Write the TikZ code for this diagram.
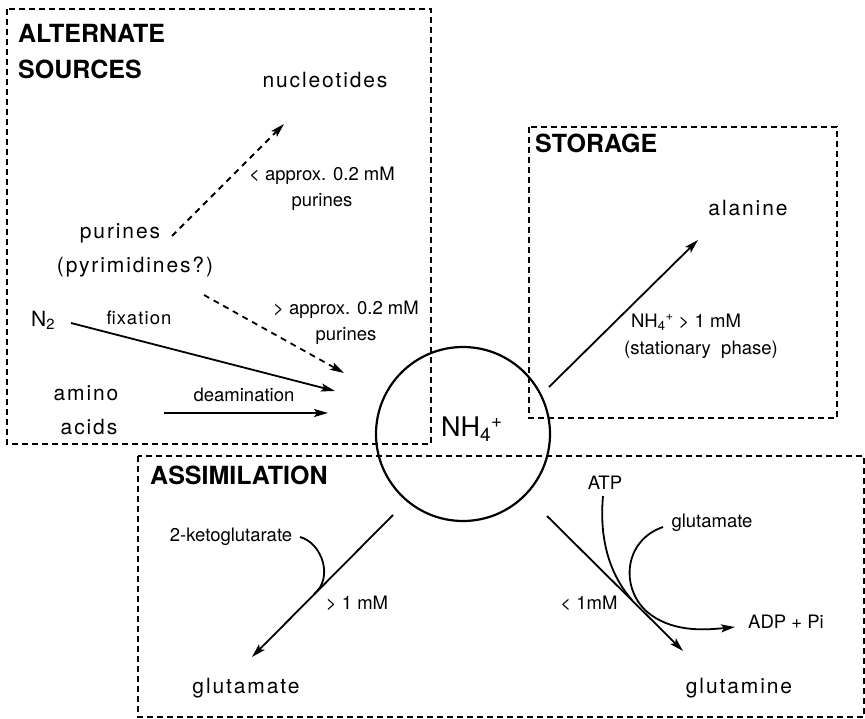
\documentclass[tikz,border=0pt]{standalone}
\usepackage{fontspec}
\setmainfont{TeX Gyre Heros}
\usetikzlibrary{arrows.meta}

\tikzset{
  zone/.style={draw, line width=1.6pt, dash pattern=on 6pt off 4pt},
  head/.style={font=\fontsize{25}{28}\selectfont\bfseries, anchor=west, inner sep=0pt},
  big/.style={font=\fontsize{21}{26}\selectfont\addfontfeature{LetterSpace=9}, inner sep=0pt, align=center},
  small/.style={font=\fontsize{18.5}{26}\selectfont, inner sep=0pt, align=center},
  flow/.style={line width=1.8pt, -{Stealth[length=14pt,width=8pt,inset=3pt]}},
  dflow/.style={flow, dash pattern=on 6pt off 5pt},
  link/.style={line width=1.8pt},
}

\begin{document}
\begin{tikzpicture}[x=1pt,y=-1pt]
\useasboundingbox (0,0) rectangle (865,719);

% dashed compartments
\draw[zone] (7,9) rectangle (431,444);
\draw[zone] (529,127) rectangle (837,418);
\draw[zone] (138,456) rectangle (864,717);

% central ammonium pool
\node[circle, draw, line width=2.2pt, minimum size=174pt, inner sep=0pt] (pool) at (463,434) {};
\node[font=\fontsize{27}{30}\selectfont, inner sep=0pt] (nh) at (472,429) {NH\textsubscript{4}\textsuperscript{+}};

% alternate sources
\node[head] (alt1) at (18,33) {ALTERNATE};
\node[head] (alt2) at (18,69) {SOURCES};
\node[big] (nuc) at (325,80) {nucleotides};
\node[big] (pur) at (120,233) {purines};
\node[big] (pyr) at (135,267) {(pyrimidines?)};
\node[big, anchor=west] (n2) at (31,320) {N\textsubscript{2}};
\node[small, font=\fontsize{18.5}{26}\selectfont\addfontfeature{LetterSpace=6}] (fix) at (139,318) {fixation};
\node[big] (amino) at (86,393) {amino};
\node[big] (acids) at (89,427) {acids};
\node[small] (deam) at (244,395) {deamination};
\node[small] (lo) at (322,189) {< approx. 0.2 mM\\purines};
\node[small] (hi) at (346,323) {> approx. 0.2 mM\\purines};

\coordinate (pA) at (172,236);  \coordinate (pB) at (284,124);
\coordinate (qA) at (204,295);  \coordinate (qB) at (344,373);
\coordinate (fA) at (71,323);   \coordinate (fB) at (335,391);
\coordinate (dA) at (164,413);  \coordinate (dB) at (328,413);
\draw[dflow] (pA) -- (pB);
\draw[dflow] (qA) -- (qB);
\draw[flow] (fA) -- (fB);
\draw[flow] (dA) -- (dB);

% storage
\node[head] (sto) at (535,143) {STORAGE};
\node[big] (ala) at (748,208) {alanine};
\node[small] (cond) at (686,322) {NH\textsubscript{4}\textsuperscript{+} > 1 mM};
\node[small] (phase) at (701,350) {(stationary~~phase)};
\coordinate (aA) at (549,387);  \coordinate (aB) at (698,240);
\draw[flow] (aA) -- (aB);

% assimilation
\node[head] (asm) at (150,475) {ASSIMILATION};
\node[small] (keto) at (231,537) {2-ketoglutarate};
\node[small] (gt1) at (357,603) {> 1 mM};
\node[big] (glu) at (246,688) {glutamate};
\node[small] (atp) at (605,483) {ATP};
\node[small] (glu2) at (712,523) {glutamate};
\node[small] (lt1) at (589,603) {< 1mM};
\node[small] (adp) at (786,622) {ADP + Pi};
\node[big] (gln) at (739,688) {glutamine};

\coordinate (gA) at (393,515);  \coordinate (gB) at (252,657);
\coordinate (nA) at (547,516);  \coordinate (nB) at (683,651);
\draw[flow] (gA) -- (gB);
\draw[flow] (nA) -- (nB);

% co-substrates joining the reactions
\coordinate (kS) at (300,537);  \coordinate (kE) at (314,594);
\draw[link] (kS) .. controls (322,543) and (334,578) .. (kE);
\coordinate (tS) at (603,496);  \coordinate (tE) at (632,600);
\draw[link] (tS) .. controls (599,540) and (610,575) .. (tE);
\coordinate (uS) at (663,527);  \coordinate (uM) at (645,610);  \coordinate (uE) at (735,627);
\draw[flow] (uS) .. controls (625,540) and (620,585) .. (uM)
                 .. controls (670,633) and (705,630) .. (uE);
\end{tikzpicture}
\end{document}
